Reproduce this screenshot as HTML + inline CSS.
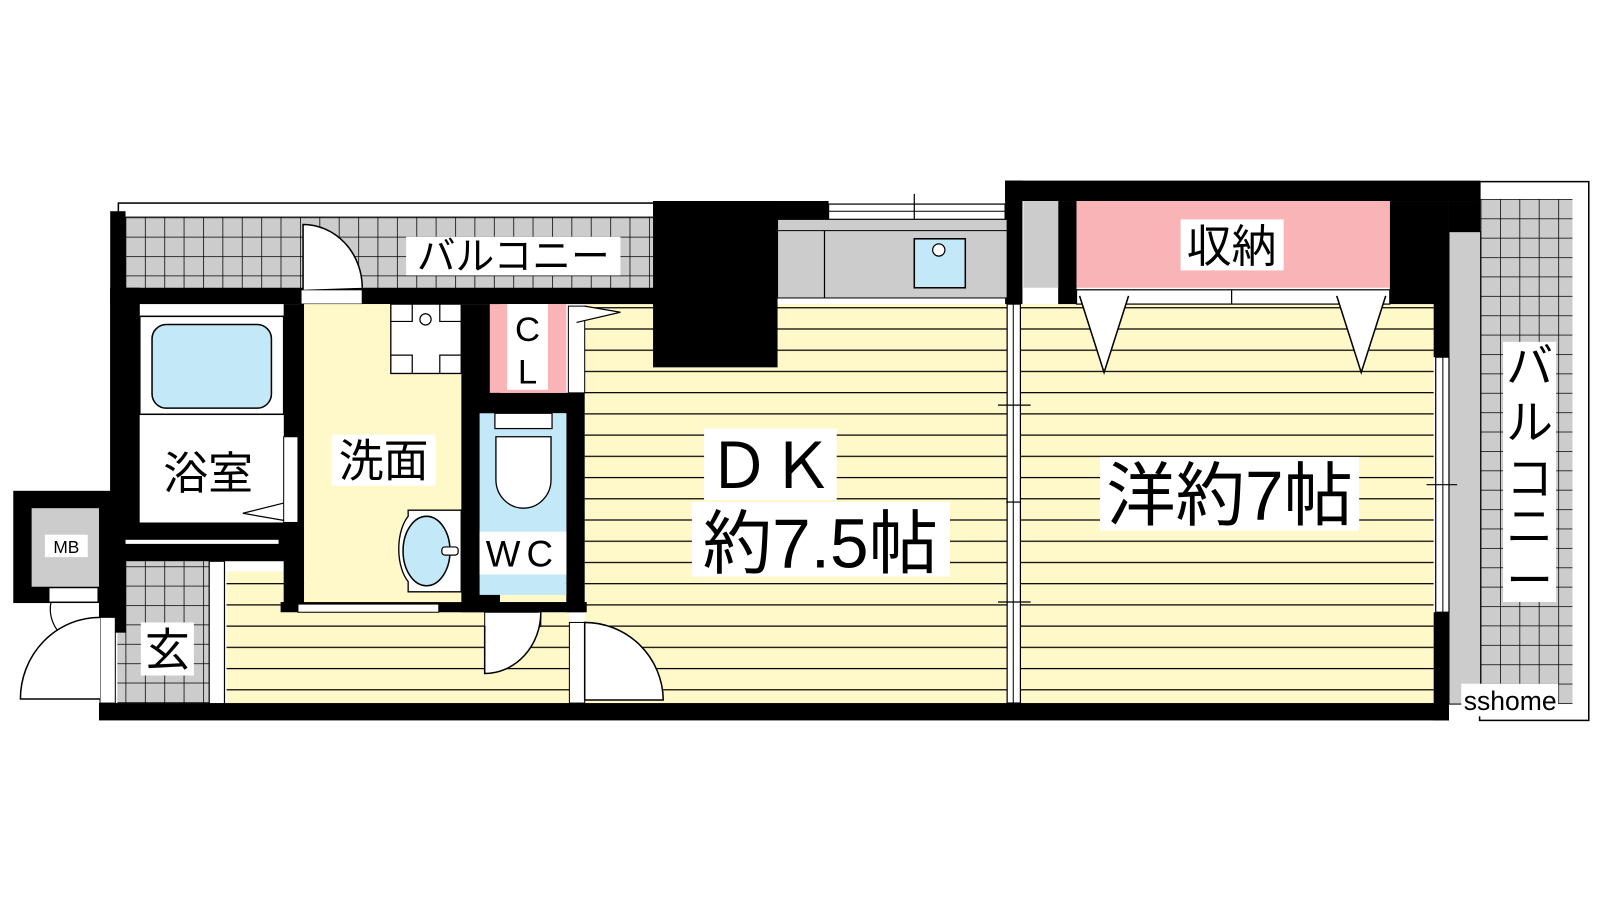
<!DOCTYPE html>
<html><head><meta charset="utf-8"><style>
html,body{margin:0;padding:0;background:#fff;}
svg{display:block}
text{font-family:"Liberation Sans","Noto Sans CJK JP",sans-serif;fill:#000}
</style></head><body>
<svg width="1600" height="900" viewBox="0 0 1568 882" preserveAspectRatio="none" xmlns="http://www.w3.org/2000/svg">
<defs>
<pattern id="grid" width="19" height="19" patternUnits="userSpaceOnUse" x="123" y="213">
<rect width="19" height="19" fill="#cccccc"/><path d="M0 0H19M0 0V19" stroke="#000" stroke-width="1.5"/></pattern>
<pattern id="grid2" width="19" height="19" patternUnits="userSpaceOnUse" x="1451" y="195">
<rect width="19" height="19" fill="#cccccc"/><path d="M0 0H19M0 0V19" stroke="#000" stroke-width="1.5"/></pattern>
<pattern id="floor" width="20" height="20.8" patternUnits="userSpaceOnUse" x="0" y="301">
<rect width="20" height="20.8" fill="#fff8c8"/><path d="M0 0.5H20" stroke="#000" stroke-width="1.3"/></pattern>
</defs>

<rect x="116" y="199" width="528" height="14" fill="#fff" stroke="#000" stroke-width="1.5"/>
<rect x="123" y="213" width="520" height="70" fill="url(#grid)"/>
<rect x="398" y="232" width="210" height="38" fill="#fff"/>
<text x="503" y="264" font-size="38" text-anchor="middle">バルコニー</text>

<rect x="1450" y="178" width="107" height="528" fill="#fff" stroke="#000" stroke-width="1.5"/>
<rect x="1451" y="195" width="90" height="495" fill="url(#grid2)"/>
<rect x="1420" y="227" width="31" height="463" fill="#cccccc" stroke="#000" stroke-width="1"/>
<rect x="1473" y="335" width="52" height="255" fill="#fff"/>
<text font-size="46" text-anchor="middle"><tspan x="1499" y="375">バ</tspan><tspan x="1499" y="430">ル</tspan><tspan x="1499" y="485">コ</tspan><tspan x="1499" y="532">ニ</tspan><tspan x="1499" y="585">ー</tspan></text>

<rect x="573" y="298" width="414" height="392" fill="url(#floor)"/>
<rect x="1000" y="298" width="405" height="392" fill="url(#floor)"/>
<rect x="222" y="560" width="336" height="130" fill="url(#floor)"/>
<rect x="115" y="550" width="90" height="140" fill="url(#grid)"/>
<rect x="205" y="550" width="15" height="140" fill="#fff" stroke="#000" stroke-width="1.2"/>

<g fill="#000">
<rect x="108" y="207" width="15" height="345"/>
<rect x="108" y="282" width="535" height="16"/>
<rect x="108" y="282" width="29" height="240"/>
<rect x="640" y="197" width="122" height="163"/>
<rect x="640" y="197" width="172" height="18"/>
<rect x="985" y="177" width="466" height="20"/>
<rect x="985" y="177" width="17" height="121"/>
<rect x="1037" y="197" width="18" height="101"/>
<rect x="1362" y="197" width="58" height="101"/>
<rect x="1420" y="197" width="31" height="30"/>
<rect x="1405" y="282" width="15" height="68"/>
<rect x="1405" y="600" width="15" height="106"/>
<rect x="97" y="689" width="1323" height="17"/>
<rect x="13" y="481" width="97" height="110"/>
<rect x="97" y="543" width="26" height="77"/>
<rect x="108" y="512" width="190" height="38"/>
<rect x="278" y="298" width="20" height="300"/>
<rect x="275" y="590" width="300" height="10"/>
<rect x="452" y="298" width="38" height="302"/>
<rect x="555" y="385" width="18" height="215"/>
<rect x="470" y="385" width="100" height="20"/>
</g>
<rect x="123" y="529" width="150" height="4" fill="#fff"/>

<rect x="295" y="284" width="60" height="14" fill="#fff" stroke="#000" stroke-width="1"/>
<path d="M297 284V220A58 62 0 0 1 355 282" fill="#fff" stroke="#000" stroke-width="1.5"/>

<rect x="812" y="200" width="173" height="15" fill="#fff" stroke="#000" stroke-width="1.2"/>
<line x1="812" y1="207" x2="985" y2="207" stroke="#000" stroke-width="1"/>
<line x1="896" y1="190" x2="896" y2="225" stroke="#000" stroke-width="1.2"/>
<rect x="762" y="215" width="225" height="77" fill="#cccccc" stroke="#000" stroke-width="1"/>
<line x1="762" y1="226" x2="987" y2="226" stroke="#000" stroke-width="1"/>
<line x1="808" y1="226" x2="808" y2="292" stroke="#000" stroke-width="1.2"/>
<rect x="896" y="234" width="50" height="48" fill="#c3e8f7" stroke="#000" stroke-width="1.5"/>
<circle cx="920" cy="245" r="6" fill="#fff" stroke="#000" stroke-width="1.2"/>

<rect x="1003" y="197" width="34" height="85" fill="#cccccc"/>
<rect x="1055" y="197" width="307" height="85" fill="#f8b4b6"/>
<rect x="1157" y="215" width="101" height="50" fill="#fff"/>
<text x="1207" y="257" font-size="44" text-anchor="middle">収納</text>
<rect x="1055" y="284" width="307" height="14" fill="#fff" stroke="#000" stroke-width="1.2"/>
<line x1="1207" y1="284" x2="1207" y2="298" stroke="#000" stroke-width="1.2"/>
<path d="M1058 290L1082 365L1106 290" fill="#fff" stroke="#000" stroke-width="1.5"/>
<path d="M1310 290L1334 365L1358 290" fill="#fff" stroke="#000" stroke-width="1.5"/>

<rect x="987" y="298" width="13" height="391" fill="#fff" stroke="#000" stroke-width="1.2"/>
<line x1="993" y1="298" x2="993" y2="689" stroke="#000" stroke-width="1"/>
<g stroke="#000" stroke-width="1.2"><line x1="978" y1="397" x2="1010" y2="397"/><line x1="978" y1="590" x2="1010" y2="590"/><line x1="986" y1="492" x2="1000" y2="492"/></g>
<rect x="1407" y="350" width="13" height="250" fill="#fff" stroke="#000" stroke-width="1.2"/>
<line x1="1414" y1="350" x2="1414" y2="600" stroke="#000" stroke-width="1"/>
<line x1="1398" y1="475" x2="1428" y2="475" stroke="#000" stroke-width="1.2"/>

<rect x="137" y="310" width="141" height="202" fill="#fff"/>
<rect x="137" y="310" width="141" height="96" fill="#fff" stroke="#000" stroke-width="1.5"/>
<rect x="149" y="318" width="117" height="82" rx="14" fill="#c3e8f7" stroke="#000" stroke-width="1.5"/>
<rect x="278" y="428" width="14" height="84" fill="#fff" stroke="#000" stroke-width="1"/>
<path d="M278 493L238 503L278 510" fill="none" stroke="#000" stroke-width="1.2"/>
<rect x="152" y="436" width="105" height="52" fill="#fff"/>
<text x="204" y="479" font-size="44" text-anchor="middle">浴室</text>

<rect x="298" y="298" width="154" height="292" fill="#fff8c8"/>
<rect x="383" y="298" width="69" height="68" fill="#fff" stroke="#000" stroke-width="1.3"/>
<path d="M404 298V315H383M431 298V315H452M404 366V348H383M431 366V348H452" fill="none" stroke="#000" stroke-width="1.2"/>
<circle cx="417" cy="313" r="5.5" fill="#fff" stroke="#000" stroke-width="1.2"/>
<path d="M452 500H400V506A20 38 0 0 0 400 570V580H452Z" fill="#fff" stroke="#000" stroke-width="1.3"/>
<ellipse cx="418" cy="540" rx="23" ry="34" fill="#c3e8f7" stroke="#000" stroke-width="1.5"/>
<rect x="433" y="536" width="16" height="8" rx="3" fill="#fff" stroke="#000" stroke-width="1.2"/>
<rect x="325" y="426" width="102" height="50" fill="#fff"/>
<text x="376" y="467" font-size="44" text-anchor="middle">洗面</text>
<rect x="292" y="592" width="138" height="8" fill="#fff" stroke="#000" stroke-width="1"/>
<line x1="360" y1="591" x2="428" y2="591" stroke="#000" stroke-width="1" stroke-dasharray="4 3"/>

<rect x="480" y="298" width="75" height="87" fill="#f8b4b6"/>
<rect x="497" y="298" width="40" height="84" fill="#fff"/>
<text x="517" y="334" font-size="34" text-anchor="middle">C</text>
<text x="517" y="376" font-size="34" text-anchor="middle">L</text>
<rect x="557" y="300" width="16" height="85" fill="#fff" stroke="#000" stroke-width="1"/>
<path d="M565 316L608 306L573 300" fill="#fff" stroke="#000" stroke-width="1.2"/>

<rect x="470" y="405" width="85" height="178" fill="#c3e8f7"/>
<rect x="485" y="405" width="56" height="15" fill="#fff" stroke="#000" stroke-width="1.2"/>
<path d="M486 428H540V470A27 28 0 0 1 486 470Z" fill="#fff" stroke="#000" stroke-width="1.3"/>
<rect x="470" y="521" width="85" height="42" fill="#fff"/>
<text x="512" y="555" font-size="36" text-anchor="middle" letter-spacing="6">WC</text>
<rect x="475" y="600" width="55" height="14" fill="#fff" stroke="#000" stroke-width="1"/>
<path d="M475 614V660A55 60 0 0 0 530 600" fill="#fff" stroke="#000" stroke-width="1.5"/>

<rect x="558" y="610" width="15" height="79" fill="#fff" stroke="#000" stroke-width="1"/>
<path d="M573 610A77 77 0 0 1 650 686H573Z" fill="#fff" stroke="#000" stroke-width="1.5"/>

<rect x="31" y="498" width="66" height="77" fill="#cccccc"/>
<rect x="44" y="524" width="42" height="22" fill="#fff"/>
<text x="65" y="542" font-size="17" text-anchor="middle">MB</text>
<rect x="48" y="576" width="48" height="14" fill="#fff" stroke="#000" stroke-width="1"/>
<path d="M50 590A48 40 0 0 0 58 620" fill="none" stroke="#000" stroke-width="1.2"/>
<rect x="98" y="605" width="15" height="84" fill="#fff" stroke="#000" stroke-width="1"/>
<path d="M98 605A78 80 0 0 0 20 685H98" fill="#fff" stroke="#000" stroke-width="1.5"/>
<rect x="138" y="610" width="52" height="52" fill="#fff"/>
<text x="164" y="652" font-size="44" text-anchor="middle">玄</text>

<rect x="690" y="420" width="130" height="70" fill="#fff"/>
<text x="755" y="478" font-size="62" text-anchor="middle">ＤＫ</text>
<rect x="678" y="492" width="253" height="73" fill="#fff"/>
<text x="804" y="556" font-size="68" text-anchor="middle">約7.5帖</text>

<rect x="1078" y="448" width="254" height="72" fill="#fff"/>
<text x="1205" y="509" font-size="68" text-anchor="middle">洋約7帖</text>

<rect x="1432" y="670" width="95" height="32" fill="#fff"/>
<text x="1480" y="696" font-size="26" text-anchor="middle">sshome</text>
</svg>
</body></html>
